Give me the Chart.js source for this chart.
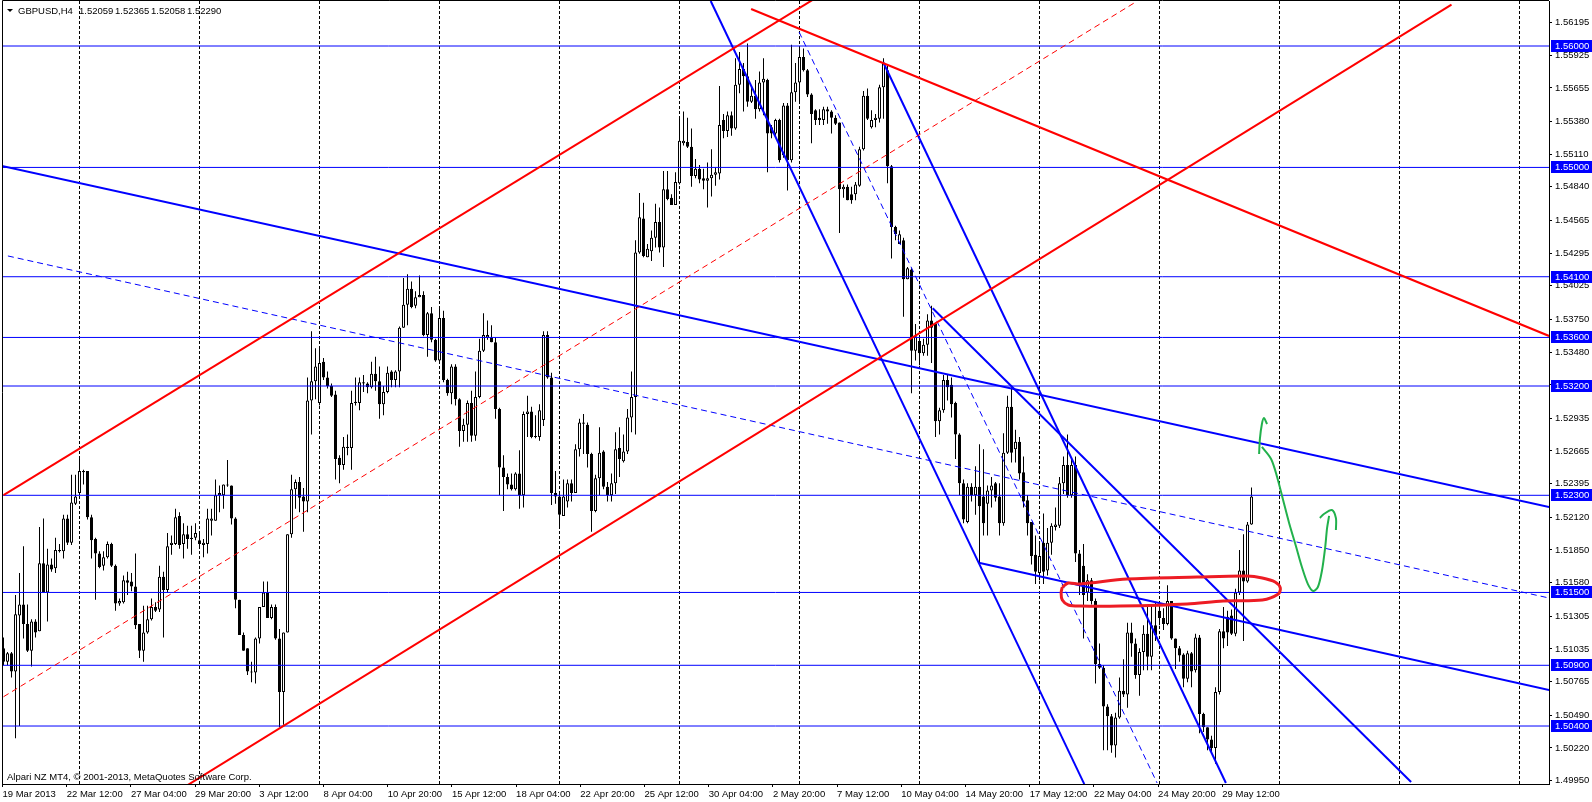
<!DOCTYPE html>
<html>
<head>
<meta charset="utf-8">
<script src="https://cdn.jsdelivr.net/npm/chart.js@4.4.1/dist/chart.umd.min.js"></script>
<style>
  html, body { margin: 0; padding: 0; background: #fff; }
  #wrap { width: 1592px; height: 802px; }
</style>
</head>
<body>
<div id="wrap"><canvas id="chart" width="1592" height="802"></canvas></div>
<script>
// GBPUSD H4 candles (bar 0 = first visible bar)
const opens = [
  1.5104,1.5093,1.5100,1.5085,1.5131,1.5140,1.5124,1.5102,1.5126,1.5118,
  1.5174,1.5150,1.5173,1.5170,1.5184,1.5184,1.5211,1.5191,1.5223,1.5232,
  1.5250,1.5250,1.5212,1.5194,1.5182,1.5172,1.5179,1.5190,1.5172,1.5141,
  1.5142,1.5160,1.5159,1.5155,1.5124,1.5102,1.5117,1.5128,1.5138,1.5136,
  1.5163,1.5152,1.5189,1.5190,1.5213,1.5190,1.5198,1.5195,1.5195,1.5193,
  1.5189,1.5190,1.5209,1.5209,1.5230,1.5230,1.5239,1.5238,1.5211,1.5144,
  1.5115,1.5104,1.5085,1.5084,1.5112,1.5138,1.5150,1.5129,1.5138,1.5112,
  1.5068,1.5117,1.5198,1.5235,1.5241,1.5229,1.5225,1.5308,1.5324,1.5306,
  1.5340,1.5327,1.5320,1.5313,1.5261,1.5255,1.5270,1.5269,1.5306,1.5306,
  1.5323,1.5322,1.5319,1.5330,1.5324,1.5305,1.5315,1.5332,1.5325,1.5332,
  1.5368,1.5387,1.5400,1.5386,1.5393,1.5395,1.5362,1.5380,1.5358,1.5341,
  1.5376,1.5325,1.5314,1.5336,1.5309,1.5283,1.5288,1.5306,1.5279,1.5311,
  1.5349,1.5360,1.5360,1.5356,1.5301,1.5253,1.5245,1.5239,1.5235,1.5248,
  1.5230,1.5297,1.5299,1.5278,1.5278,1.5292,1.5362,1.5327,1.5232,1.5229,
  1.5213,1.5225,1.5240,1.5232,1.5268,1.5290,1.5288,1.5264,1.5217,1.5244,
  1.5266,1.5237,1.5230,1.5240,1.5269,1.5258,1.5266,1.5294,1.5311,1.5430,
  1.5458,1.5426,1.5431,1.5442,1.5455,1.5434,1.5482,1.5475,1.5469,1.5487,
  1.5520,1.5521,1.5517,1.5493,1.5499,1.5491,1.5489,1.5491,1.5494,1.5495,
  1.5539,1.5530,1.5543,1.5532,1.5568,1.5581,1.5575,1.5554,1.5559,1.5548,
  1.5570,1.5572,1.5533,1.5528,1.5539,1.5510,1.5551,1.5506,1.5562,1.5570,
  1.5591,1.5580,1.5560,1.5547,1.5541,1.5539,1.5548,1.5546,1.5541,1.5537,
  1.5482,1.5484,1.5478,1.5478,1.5485,1.5515,1.5559,1.5533,1.5539,1.5540,
  1.5566,1.5580,1.5501,1.5451,1.5437,1.5440,1.5408,1.5416,1.5349,1.5357,
  1.5347,1.5354,1.5374,1.5371,1.5291,1.5300,1.5325,1.5321,1.5306,1.5280,
  1.5240,1.5208,1.5237,1.5230,1.5237,1.5229,1.5223,1.5234,1.5240,1.5229,
  1.5207,1.5265,1.5303,1.5268,1.5274,1.5249,1.5226,1.5208,1.5181,1.5166,
  1.5191,1.5168,1.5191,1.5204,1.5205,1.5240,1.5255,1.5230,1.5255,1.5182,
  1.5172,1.5150,1.5160,1.5143,1.5091,1.5088,1.5056,1.5048,1.5024,1.5047,
  1.5069,1.5066,1.5117,1.5108,1.5082,1.5101,1.5116,1.5097,1.5123,1.5135,
  1.5129,1.5124,1.5143,1.5112,1.5104,1.5099,1.5079,1.5100,1.5086,1.5113,
  1.5050,1.5039,1.5029,1.5022,1.5068,1.5118,1.5130,1.5131,1.5116,1.5150,
  1.5168,1.5159,1.52059
];
const highs = [
  1.5113,1.5101,1.5101,1.5148,1.5166,1.5188,1.5140,1.5128,1.5128,1.5204,
  1.5211,1.5186,1.5178,1.5195,1.5190,1.5214,1.5214,1.5247,1.5247,1.5262,
  1.5251,1.5250,1.5214,1.5195,1.5184,1.5184,1.5192,1.5191,1.5173,1.5145,
  1.5164,1.5167,1.5166,1.5182,1.5124,1.5139,1.5139,1.5145,1.5142,1.5172,
  1.5167,1.5199,1.5197,1.5219,1.5216,1.5207,1.5205,1.5205,1.5207,1.5200,
  1.5194,1.5219,1.5219,1.5243,1.5238,1.5239,1.5259,1.5238,1.5212,1.5144,
  1.5117,1.5104,1.5093,1.5113,1.5138,1.5159,1.5159,1.5140,1.5140,1.5120,
  1.5117,1.5198,1.5247,1.5243,1.5245,1.5236,1.5327,1.5365,1.5351,1.5351,
  1.5343,1.5332,1.5322,1.5316,1.5263,1.5278,1.5280,1.5316,1.5327,1.5327,
  1.5329,1.5323,1.5340,1.5344,1.5336,1.5320,1.5336,1.5333,1.5333,1.5369,
  1.5409,1.5412,1.5406,1.5398,1.5411,1.5398,1.5381,1.5385,1.5359,1.5385,
  1.5382,1.5326,1.5338,1.5338,1.5310,1.5293,1.5308,1.5316,1.5332,1.5359,
  1.5380,1.5374,1.5370,1.5360,1.5302,1.5263,1.5248,1.5248,1.5249,1.5267,
  1.5299,1.5312,1.5303,1.5296,1.5305,1.5365,1.5365,1.5331,1.5250,1.5231,
  1.5243,1.5243,1.5243,1.5272,1.5293,1.5297,1.5290,1.5265,1.5247,1.5286,
  1.5267,1.5241,1.5248,1.5282,1.5286,1.5280,1.5301,1.5332,1.5440,1.5479,
  1.5471,1.5437,1.5448,1.5470,1.5467,1.5497,1.5497,1.5478,1.5496,1.5541,
  1.5546,1.5541,1.5532,1.5507,1.5502,1.5499,1.5504,1.5515,1.5500,1.5567,
  1.5544,1.5546,1.5546,1.5590,1.5595,1.5586,1.5602,1.5566,1.5572,1.5579,
  1.5590,1.5573,1.5535,1.5540,1.5540,1.5553,1.5553,1.5601,1.5586,1.5598,
  1.5598,1.5581,1.5561,1.5548,1.5548,1.5550,1.5550,1.5547,1.5543,1.5537,
  1.5486,1.5486,1.5484,1.5488,1.5517,1.5563,1.5565,1.5547,1.5544,1.5568,
  1.5590,1.5584,1.5502,1.5452,1.5448,1.5442,1.5418,1.5417,1.5371,1.5362,
  1.5359,1.5379,1.5386,1.5372,1.5302,1.5329,1.5329,1.5327,1.5307,1.5281,
  1.5243,1.5240,1.5240,1.5254,1.5272,1.5268,1.5238,1.5245,1.5241,1.5240,
  1.5281,1.5312,1.5319,1.5284,1.5278,1.5262,1.5230,1.5208,1.5197,1.5191,
  1.5215,1.5203,1.5207,1.5220,1.5245,1.5262,1.5280,1.5260,1.5262,1.5185,
  1.5190,1.5165,1.5162,1.5145,1.5108,1.5090,1.5058,1.5050,1.5051,1.5080,
  1.5095,1.5125,1.5125,1.5112,1.5104,1.5123,1.5139,1.5139,1.5142,1.5142,
  1.5137,1.5156,1.5143,1.5112,1.5106,1.5100,1.5102,1.5101,1.5116,1.5115,
  1.5051,1.5039,1.5032,1.5072,1.5120,1.5138,1.5135,1.5136,1.5153,1.5185,
  1.5198,1.5208,1.52365
];
const lows = [
  1.5090,1.5090,1.5080,1.5030,1.5040,1.5112,1.5101,1.5089,1.5113,1.5118,
  1.5150,1.5126,1.5167,1.5166,1.5183,1.5178,1.5189,1.5189,1.5222,1.5230,
  1.5239,1.5210,1.5178,1.5144,1.5170,1.5168,1.5178,1.5171,1.5135,1.5139,
  1.5141,1.5148,1.5151,1.5120,1.5096,1.5093,1.5116,1.5127,1.5134,1.5134,
  1.5113,1.5150,1.5181,1.5189,1.5186,1.5178,1.5186,1.5181,1.5193,1.5188,
  1.5179,1.5182,1.5197,1.5209,1.5216,1.5219,1.5237,1.5206,1.5137,1.5115,
  1.5102,1.5082,1.5076,1.5075,1.5108,1.5138,1.5129,1.5128,1.5111,1.5039,
  1.5041,1.5117,1.5195,1.5219,1.5216,1.5200,1.5216,1.5280,1.5309,1.5304,
  1.5325,1.5318,1.5311,1.5243,1.5240,1.5251,1.5263,1.5251,1.5304,1.5300,
  1.5315,1.5314,1.5318,1.5316,1.5293,1.5296,1.5314,1.5319,1.5319,1.5319,
  1.5368,1.5370,1.5384,1.5384,1.5393,1.5361,1.5344,1.5356,1.5340,1.5340,
  1.5323,1.5312,1.5305,1.5304,1.5270,1.5274,1.5274,1.5274,1.5275,1.5310,
  1.5348,1.5358,1.5356,1.5293,1.5230,1.5217,1.5235,1.5234,1.5234,1.5219,
  1.5220,1.5278,1.5277,1.5277,1.5275,1.5287,1.5326,1.5222,1.5223,1.5203,
  1.5213,1.5220,1.5225,1.5232,1.5262,1.5264,1.5253,1.5200,1.5216,1.5230,
  1.5235,1.5225,1.5225,1.5231,1.5245,1.5257,1.5264,1.5282,1.5280,1.5429,
  1.5426,1.5426,1.5423,1.5434,1.5430,1.5418,1.5473,1.5469,1.5469,1.5486,
  1.5518,1.5516,1.5484,1.5491,1.5487,1.5482,1.5467,1.5476,1.5485,1.5490,
  1.5524,1.5525,1.5526,1.5531,1.5561,1.5546,1.5550,1.5553,1.5540,1.5546,
  1.5543,1.5496,1.5524,1.5526,1.5504,1.5508,1.5481,1.5504,1.5554,1.5554,
  1.5579,1.5558,1.5520,1.5535,1.5535,1.5535,1.5536,1.5528,1.5535,1.5446,
  1.5475,1.5473,1.5470,1.5473,1.5484,1.5514,1.5539,1.5532,1.5533,1.5537,
  1.5540,1.5487,1.5425,1.5440,1.5437,1.5377,1.5408,1.5314,1.5341,1.5337,
  1.5345,1.5345,1.5339,1.5278,1.5280,1.5298,1.5308,1.5294,1.5260,1.5230,
  1.5207,1.5207,1.5225,1.5214,1.5174,1.5197,1.5197,1.5220,1.5225,1.5197,
  1.5205,1.5264,1.5257,1.5257,1.5243,1.5220,1.5197,1.5173,1.5157,1.5160,
  1.5157,1.5164,1.5181,1.5201,1.5203,1.5231,1.5228,1.5228,1.5175,1.5148,
  1.5112,1.5143,1.5140,1.5075,1.5087,1.5020,1.5020,1.5018,1.5014,1.5046,
  1.5064,1.5055,1.5097,1.5079,1.5065,1.5086,1.5086,1.5086,1.5110,1.5123,
  1.5119,1.5123,1.5111,1.5087,1.5093,1.5072,1.5076,1.5072,1.5084,1.5034,
  1.5035,1.5020,1.5018,1.5009,1.5066,1.5104,1.5106,1.5115,1.5114,1.5148,
  1.5110,1.5158,1.52058
];
const closes = [
  1.5093,1.5100,1.5085,1.5132,1.5140,1.5124,1.5102,1.5126,1.5117,1.5174,
  1.5150,1.5173,1.5169,1.5185,1.5185,1.5211,1.5191,1.5224,1.5229,1.5250,
  1.5249,1.5212,1.5193,1.5182,1.5171,1.5179,1.5190,1.5172,1.5141,1.5143,
  1.5160,1.5158,1.5155,1.5123,1.5102,1.5117,1.5128,1.5138,1.5135,1.5163,
  1.5152,1.5188,1.5191,1.5212,1.5189,1.5198,1.5194,1.5194,1.5199,1.5190,
  1.5191,1.5211,1.5211,1.5230,1.5232,1.5239,1.5238,1.5211,1.5144,1.5115,
  1.5102,1.5085,1.5084,1.5112,1.5138,1.5150,1.5129,1.5138,1.5112,1.5068,
  1.5117,1.5198,1.5235,1.5241,1.5228,1.5225,1.5308,1.5324,1.5336,1.5339,
  1.5327,1.5320,1.5312,1.5260,1.5255,1.5270,1.5269,1.5306,1.5307,1.5323,
  1.5322,1.5319,1.5330,1.5324,1.5305,1.5315,1.5331,1.5325,1.5332,1.5368,
  1.5387,1.5400,1.5385,1.5393,1.5395,1.5362,1.5380,1.5358,1.5341,1.5376,
  1.5325,1.5314,1.5336,1.5309,1.5283,1.5288,1.5306,1.5279,1.5311,1.5349,
  1.5362,1.5362,1.5356,1.5301,1.5253,1.5245,1.5239,1.5235,1.5248,1.5230,
  1.5297,1.5299,1.5278,1.5278,1.5300,1.5362,1.5327,1.5232,1.5229,1.5214,
  1.5229,1.5240,1.5232,1.5268,1.5290,1.5289,1.5264,1.5217,1.5244,1.5265,
  1.5237,1.5230,1.5240,1.5268,1.5260,1.5266,1.5294,1.5311,1.5430,1.5459,
  1.5427,1.5433,1.5442,1.5455,1.5434,1.5482,1.5474,1.5469,1.5488,1.5522,
  1.5522,1.5517,1.5493,1.5499,1.5490,1.5489,1.5491,1.5494,1.5496,1.5535,
  1.5530,1.5543,1.5532,1.5568,1.5581,1.5575,1.5554,1.5559,1.5548,1.5570,
  1.5573,1.5528,1.5528,1.5539,1.5506,1.5551,1.5506,1.5562,1.5570,1.5591,
  1.5580,1.5560,1.5544,1.5539,1.5539,1.5548,1.5546,1.5541,1.5536,1.5482,
  1.5484,1.5473,1.5473,1.5486,1.5515,1.5559,1.5540,1.5539,1.5541,1.5566,
  1.5586,1.5501,1.5451,1.5445,1.5445,1.5408,1.5417,1.5349,1.5361,1.5347,
  1.5354,1.5374,1.5368,1.5291,1.5300,1.5325,1.5319,1.5305,1.5280,1.5240,
  1.5210,1.5237,1.5230,1.5237,1.5221,1.5207,1.5234,1.5238,1.5228,1.5207,
  1.5265,1.5303,1.5265,1.5274,1.5248,1.5225,1.5207,1.5180,1.5167,1.5180,
  1.5167,1.5191,1.5205,1.5206,1.5240,1.5255,1.5230,1.5255,1.5182,1.5157,
  1.5148,1.5160,1.5143,1.5091,1.5088,1.5056,1.5048,1.5024,1.5047,1.5069,
  1.5066,1.5117,1.5108,1.5082,1.5101,1.5116,1.5097,1.5123,1.5115,1.5129,
  1.5124,1.5143,1.5112,1.5104,1.5098,1.5079,1.5100,1.5085,1.5113,1.5050,
  1.5039,1.5029,1.5022,1.5068,1.5118,1.5112,1.5117,1.5116,1.5150,1.5168,
  1.5159,1.5206,1.52290
];

// time axis labels (one every 16 bars) and price ticks of the right axis
const timeLabels = ["19 Mar 2013", "22 Mar 12:00", "27 Mar 04:00", "29 Mar 20:00", "3 Apr 12:00",
  "8 Apr 04:00", "10 Apr 20:00", "15 Apr 12:00", "18 Apr 04:00", "22 Apr 20:00", "25 Apr 12:00",
  "30 Apr 04:00", "2 May 20:00", "7 May 12:00", "10 May 04:00", "14 May 20:00", "17 May 12:00",
  "22 May 04:00", "24 May 20:00", "29 May 12:00"];
const priceTicks = [1.56195, 1.55925, 1.55655, 1.55380, 1.55110, 1.54840, 1.54565, 1.54295,
  1.54025, 1.53750, 1.53480, 1.53210, 1.52935, 1.52665, 1.52395, 1.52120, 1.51850, 1.51580,
  1.51305, 1.51035, 1.50765, 1.50490, 1.50220, 1.49950];

// horizontal levels
const levels = [1.56, 1.55, 1.541, 1.536, 1.532, 1.523, 1.515, 1.509, 1.504];

// trend lines: [bar1, price1, bar2, price2]
const blueSolid = [
  [-0.375, 1.55012, 386.4, 1.52204],
  [244.1, 1.51742, 386.4, 1.50697],
  [232.3, 1.53840, 351.9, 1.49939],
  [176.8, 1.56371, 270.2, 1.49922],
  [219.9, 1.55868, 305.6, 1.49931]
];
const blueDashed = [
  [1.1, 1.54271, 386.4, 1.51454],
  [198.9, 1.56115, 288.4, 1.49931]
];
const redSolid = [
  [0, 1.52302, 203, 1.56394],
  [46, 1.49913, 362, 1.56341],
  [186.9, 1.56305, 386.4, 1.53612]
];
const redDashed = [
  [0, 1.50641, 283, 1.56361]
];

// hand drawn marks: [bar, price] points
const redLoop = [[264.7,1.51545],[266.2,1.51578],[269.2,1.5157],[280.9,1.51611],[298.4,1.51627],
  [310.9,1.51635],[314.7,1.51619],[317.9,1.51586],[319.2,1.51537],[318.7,1.51487],[314.7,1.51438],
  [304.9,1.5143],[295.9,1.51405],[279.2,1.51388],[269.2,1.51388],[266.2,1.51397],[264.7,1.51438],
  [264.4,1.51495],[264.7,1.51545]];
const greenTick = [[313.9,1.5264],[314.1,1.52764],[314.6,1.52887],[315.1,1.52936],[315.9,1.52887]];
const greenCurve = [[314.6,1.52698],[316.9,1.52599],[318.4,1.52451],[319.9,1.52261],[321.4,1.52072],
  [323.1,1.51882],[324.6,1.51709],[326.1,1.51569],[327.4,1.51512],[328.6,1.51545],[329.6,1.51677],
  [330.4,1.51866],[330.9,1.52031],[331.4,1.5213]];
const greenHook = [[329.1,1.52113],[330.1,1.52146],[332.1,1.52179],[333.1,1.52113],[333.1,1.52014]];

const X_MIN = -0.375, X_MAX = 386.375;
const Y_MIN = 1.499226, Y_MAX = 1.563706;
const FONT = "'Liberation Sans', Arial, sans-serif";
const FSIZE = 9.5;

Chart.defaults.font.family = FONT;
Chart.defaults.font.size = FSIZE;
Chart.defaults.color = "#000";

function seg(a) {
  return [{ x: a[0], y: a[1] }, { x: a[2], y: a[3] }];
}
function lineSet(data, color, width, dash, order) {
  return {
    type: "line", data: data, borderColor: color, borderWidth: width,
    borderDash: dash || [], pointRadius: 0, fill: false, tension: 0,
    clip: 0, order: order
  };
}

const datasets = [];
// candles: wicks then bodies
datasets.push({
  type: "bar",
  data: highs.map((h, i) => ({ x: i, y: [lows[i], h] })),
  backgroundColor: "#000", borderWidth: 0, barThickness: 1,
  inflateAmount: 0, grouped: false, minBarLength: 1, order: 20
});
datasets.push({
  type: "bar",
  data: opens.map((o, i) => ({ x: i, y: [o, closes[i]] })),
  backgroundColor: opens.map((o, i) => (closes[i] >= o ? "#fff" : "#000")),
  borderColor: "#000", borderWidth: 1, borderSkipped: false, barThickness: 3,
  inflateAmount: 0, grouped: false, minBarLength: 1, order: 19
});
// levels and trend lines
levels.forEach(l => datasets.push(lineSet([{ x: X_MIN, y: l }, { x: X_MAX, y: l }], "#0000ff", 1, null, 5)));
blueSolid.forEach(a => datasets.push(lineSet(seg(a), "#0000ff", 2, null, 4)));
blueDashed.forEach(a => datasets.push(lineSet(seg(a), "#0000ff", 1, [6, 4], 4)));
redSolid.forEach(a => datasets.push(lineSet(seg(a), "#ff0000", 2, null, 3)));
redDashed.forEach(a => datasets.push(lineSet(seg(a), "#ff0000", 1, [6, 4], 3)));
// hand drawn
const pts = arr => arr.map(p => ({ x: p[0], y: p[1] }));
datasets.push(Object.assign(lineSet(pts(redLoop), "#ed1c24", 3, null, 1), { tension: 0.3 }));
[greenTick, greenCurve, greenHook].forEach(g =>
  datasets.push(Object.assign(lineSet(pts(g), "#22b14c", 2, null, 0), { tension: 0.3 })));

// frame, price boxes, header and copyright text
const mt4Extras = {
  id: "mt4Extras",
  afterDraw(chart) {
    const ctx = chart.ctx, area = chart.chartArea, ys = chart.scales.y;
    ctx.save();
    ctx.strokeStyle = "#000";
    ctx.lineWidth = 1;
    ctx.beginPath();
    ctx.moveTo(area.left + 0.5, area.bottom);
    ctx.lineTo(area.left + 0.5, area.top - 0.5);
    ctx.lineTo(area.right, area.top - 0.5);
    ctx.stroke();

    ctx.font = FSIZE + "px " + FONT;
    ctx.textBaseline = "middle";
    ctx.textAlign = "left";
    levels.forEach(l => {
      const y = Math.round(ys.getPixelForValue(l));
      ctx.fillStyle = "#0000ff";
      ctx.fillRect(area.right + 2, y - 6, 42, 12);
      ctx.fillStyle = "#fff";
      ctx.fillText(l.toFixed(5), area.right + 6, y);
    });

    ctx.fillStyle = "#000";
    ctx.beginPath();
    ctx.moveTo(7, 9); ctx.lineTo(13, 9); ctx.lineTo(10, 12); ctx.closePath();
    ctx.fill();
    ctx.fillText("GBPUSD,H4", 18, 11);
    const n = opens.length - 1;
    [opens[n], highs[n], lows[n], closes[n]].forEach((v, i) => ctx.fillText(v.toFixed(5), 79 + i * 36, 11));
    ctx.fillText("Alpari NZ MT4, \u00a9 2001-2013, MetaQuotes Software Corp.", 7, 777);
    ctx.restore();
  }
};

new Chart(document.getElementById("chart"), {
  type: "bar",
  data: { datasets: datasets },
  options: {
    responsive: false,
    animation: false,
    devicePixelRatio: 1,
    layout: { padding: { left: 2, top: 1, right: 0, bottom: 0 } },
    plugins: { legend: { display: false }, tooltip: { enabled: false } },
    scales: {
      x: {
        type: "linear", position: "bottom", min: X_MIN, max: X_MAX, offset: false,
        afterBuildTicks: s => { s.ticks = timeLabels.map((t, i) => ({ value: i * 16.05 - 0.25 })); },
        afterFit: s => { s.height = 18; s.paddingLeft = 0; s.paddingRight = 0; },
        ticks: {
          autoSkip: false, maxRotation: 0, minRotation: 0, align: "start", padding: 2,
          callback: (v, i) => timeLabels[i]
        },
        grid: { offset: false, drawOnChartArea: false, drawTicks: true, tickLength: 3, color: "#000" },
        border: { display: true, color: "#000" }
      },
      xg: {
        type: "linear", position: "bottom", min: X_MIN, max: X_MAX, offset: false,
        afterBuildTicks: s => {
          const t = [];
          for (let b = 19; b < X_MAX; b += 30) t.push({ value: b });
          s.ticks = t;
        },
        afterFit: s => { s.height = 0; s.paddingLeft = 0; s.paddingRight = 0; },
        ticks: { display: false },
        grid: { offset: false, drawOnChartArea: true, drawTicks: false, color: "#000", lineWidth: 1 },
        border: { display: false, dash: [3, 2] }
      },
      y: {
        type: "linear", position: "right", min: Y_MIN, max: Y_MAX,
        afterBuildTicks: s => { s.ticks = priceTicks.map(v => ({ value: v })); },
        afterFit: s => { s.width = 43; s.paddingTop = 0; s.paddingBottom = 0; },
        ticks: { padding: 3, callback: v => v.toFixed(5) },
        grid: { offset: false, drawOnChartArea: false, drawTicks: true, tickLength: 3, color: "#000" },
        border: { display: true, color: "#000" }
      }
    }
  },
  plugins: [mt4Extras]
});
</script>
</body>
</html>
